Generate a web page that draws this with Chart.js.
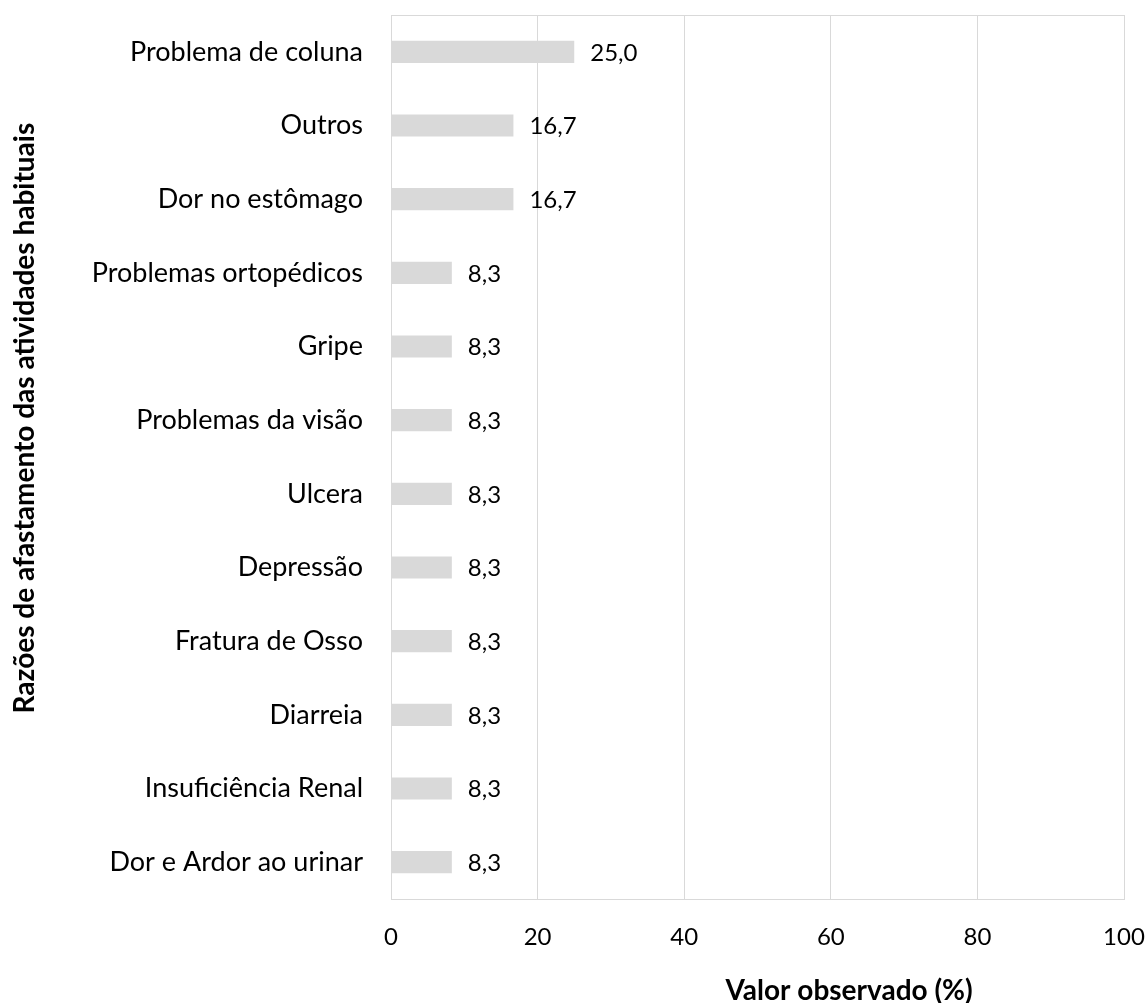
<!DOCTYPE html>
<html>
<head>
<meta charset="utf-8">
<script src="https://cdn.jsdelivr.net/npm/chart.js@4.4.1/dist/chart.umd.min.js"></script>
<style>
  html, body { margin: 0; padding: 0; background: #ffffff; }
  #wrap { width: 1148px; height: 1003px; position: relative; }
</style>
</head>
<body>
<div id="wrap"><canvas id="c"></canvas></div>
<script>
const categories = [
  "Problema de coluna",
  "Outros",
  "Dor no estômago",
  "Problemas ortopédicos",
  "Gripe",
  "Problemas da visão",
  "Ulcera",
  "Depressão",
  "Fratura de Osso",
  "Diarreia",
  "Insuficiência Renal",
  "Dor e Ardor ao urinar"
];
const values = [25.0, 16.7, 16.7, 8.3, 8.3, 8.3, 8.3, 8.3, 8.3, 8.3, 8.3, 8.3];
const xTickValues = [0, 20, 40, 60, 80, 100];
const xAxisTitle = "Valor observado (%)";
const yAxisTitle = "Razões de afastamento das atividades habituais";

const FONT = "Lato, 'Open Sans', sans-serif";
const GRID = "#d9d9d9";
const TEXT = "#000000";

const boxPlugin = {
  id: 'box',
  afterDraw(chart) {
    const a = chart.chartArea, ctx = chart.ctx;
    ctx.save();
    ctx.strokeStyle = GRID;
    ctx.lineWidth = 1;
    ctx.strokeRect(Math.round(a.left) + 0.5, Math.round(a.top) + 0.5,
                   Math.round(a.right - a.left), Math.round(a.bottom - a.top));
    ctx.restore();
  }
};

const labelPlugin = {
  id: 'valueLabels',
  afterDatasetsDraw(chart) {
    const ctx = chart.ctx;
    const meta = chart.getDatasetMeta(0);
    ctx.save();
    ctx.font = "24px " + FONT;
    ctx.fillStyle = TEXT;
    ctx.textAlign = 'left';
    ctx.textBaseline = 'middle';
    meta.data.forEach((bar, i) => {
      const txt = values[i].toFixed(1).replace('.', ',');
      ctx.fillText(txt, bar.x + 16, bar.y + 1);
    });
    ctx.restore();
  }
};

const titlePlugin = {
  id: 'axisTitles',
  afterDraw(chart) {
    const ctx = chart.ctx;
    const a = chart.chartArea;
    ctx.save();
    ctx.fillStyle = TEXT;
    ctx.font = "bold 28px " + FONT;
    ctx.textAlign = 'center';
    ctx.textBaseline = 'middle';
    ctx.fillText(xAxisTitle, a.left + (a.right - a.left) * 0.625, 991);
    ctx.translate(25, a.top + (a.bottom - a.top) * 0.456);
    ctx.rotate(-Math.PI / 2);
    ctx.fillText(yAxisTitle, 0, 0);
    ctx.restore();
  }
};

new Chart(document.getElementById('c'), {
  type: 'bar',
  data: {
    labels: categories,
    datasets: [{
      data: values,
      backgroundColor: '#d9d9d9',
      borderWidth: 0,
      barPercentage: 0.3,
      categoryPercentage: 1.0
    }]
  },
  options: {
    indexAxis: 'y',
    responsive: true,
    maintainAspectRatio: false,
    animation: false,
    layout: { padding: { top: 15, right: 24, left: 0, bottom: 0 } },
    plugins: { legend: { display: false }, tooltip: { enabled: false } },
    scales: {
      x: {
        type: 'linear',
        min: 0,
        max: 100,
        afterBuildTicks(scale) { scale.ticks = xTickValues.map(v => ({ value: v })); },
        afterFit(scale) {
          scale.height = 104;
          scale.paddingLeft = 0; scale.paddingRight = 0;
          scale.paddingTop = 0; scale.paddingBottom = 0;
        },
        grid: { color: GRID, lineWidth: 1, drawTicks: false },
        border: { display: true, color: GRID },
        ticks: { color: TEXT, font: { family: FONT, size: 24 }, padding: 24 }
      },
      y: {
        afterFit(scale) {
          scale.width = 391;
          scale.paddingLeft = 0; scale.paddingRight = 0;
          scale.paddingTop = 0; scale.paddingBottom = 0;
        },
        grid: { display: false, drawTicks: false },
        border: { display: true, color: GRID },
        ticks: { color: TEXT, font: { family: FONT, size: 27 }, padding: 28 }
      }
    }
  },
  plugins: [boxPlugin, labelPlugin, titlePlugin]
});
</script>
</body>
</html>
